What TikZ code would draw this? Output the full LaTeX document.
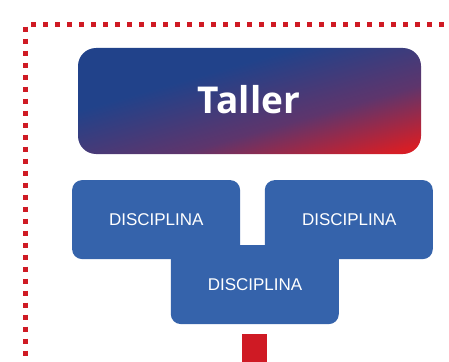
\documentclass[tikz,border=0pt]{standalone}
\usepackage{fontspec}
\setmainfont{Liberation Sans}
\newfontfamily\tallerfont{Open Sans}
\definecolor{tblue}{HTML}{21428A}
\definecolor{tpurple}{HTML}{5E356C}
\definecolor{tred}{HTML}{D61E26}
\definecolor{dblue}{HTML}{3563AB}
\definecolor{dred}{HTML}{CF1A24}
\pgfdeclareverticalshading{tallershade}{100bp}{color(0bp)=(tred); color(22bp)=(tred); color(40bp)=(tpurple); color(62bp)=(tblue); color(100bp)=(tblue)}
\tikzset{
  disc/.style={rectangle, rounded corners=10pt, fill=dblue, inner sep=0pt, outer sep=0pt,
    minimum width=168pt, minimum height=79pt},
  disctext/.style={text=white, font=\fontsize{17}{19}\selectfont},
  dots/.style={draw=dred, line width=5pt, dash pattern=on 5pt off 7pt},
}
\begin{document}
\begin{tikzpicture}[x=1pt,y=-1pt]
\useasboundingbox (0,0) rectangle (449,361);
% dotted frame
\coordinate (vb) at (25.5,361);
\coordinate (vt) at (25.5,26.7);
\coordinate (hl) at (31,24.8);
\coordinate (hr) at (449,24.8);
\draw[dots] (vt) -- (vb);
\draw[dots] (hl) -- (hr);
% Taller
\shade[shading=tallershade, shading angle=16, rounded corners=18pt] (78,48) rectangle (421,154);
\node[text=white, font=\tallerfont\bfseries\fontsize{37}{40}\selectfont] (taller) at (249,100) {Taller};
% disciplinas
\node[disc] (d3) at (254.8,284.6) {};
\node[disc] (d1) at (156.1,219.6) {};
\node[disc] (d2) at (348.8,219.6) {};
\node[disctext] (t1) at (156.3,220) {DISCIPLINA};
\node[disctext] (t2) at (349.3,220) {DISCIPLINA};
\node[disctext] (t3) at (255,285) {DISCIPLINA};
% red square
\node[fill=dred, inner sep=0pt, minimum width=25.6pt, minimum height=30pt, anchor=north] (rsq) at (254.5,333.3) {};
\end{tikzpicture}
\end{document}
